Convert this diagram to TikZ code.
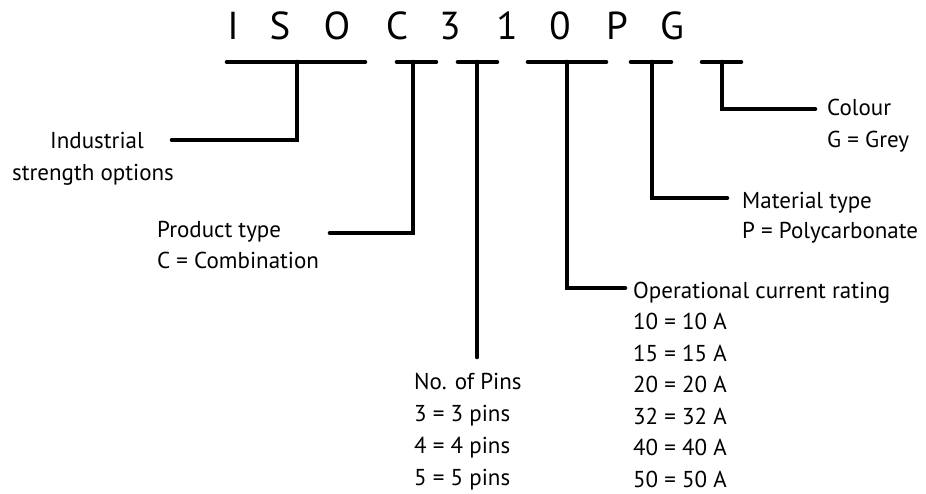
\documentclass[tikz,border=0pt]{standalone}
\usepackage{fontspec}
\setmainfont{PT Sans}
\usetikzlibrary{positioning}

\begin{document}
\begin{tikzpicture}[
    x=1pt, y=-1pt,
    codechar/.style={font=\fontsize{39}{39}\selectfont, inner sep=0pt, anchor=base},
    desc/.style={font=\fontsize{23}{28}\selectfont, inner sep=0pt, anchor=base west},
    descmid/.style={desc, anchor=base},
    bar/.style={line width=4.6pt, line cap=round},
    lead/.style={line width=4.6pt, line cap=round, line join=miter}
]
\useasboundingbox (0,0) rectangle (926,493);

% Code letters
\node[codechar] (cI) at (233,39) {I};
\node[codechar] (cS) at (280,39) {S};
\node[codechar] (cO) at (337,39) {O};
\node[codechar] (cC) at (397,39) {C};
\node[codechar] (c3) at (450,39) {3};
\node[codechar] (c1) at (507,39) {1};
\node[codechar] (c0) at (560,39) {0};
\node[codechar] (cP) at (617,39) {P};
\node[codechar] (cG) at (672,39) {G};

% Bars under the groups
\coordinate (ind-l) at (227,62);  \coordinate (ind-r) at (365,62);  \coordinate (ind-s) at (297,62);
\coordinate (typ-l) at (397,62);  \coordinate (typ-r) at (436,62);  \coordinate (typ-s) at (413,62);
\coordinate (pin-l) at (458,62);  \coordinate (pin-r) at (497,62);  \coordinate (pin-s) at (477,62);
\coordinate (cur-l) at (528,62);  \coordinate (cur-r) at (606,62);  \coordinate (cur-s) at (567,62);
\coordinate (mat-l) at (631,62);  \coordinate (mat-r) at (671,62);  \coordinate (mat-s) at (652,62);
\coordinate (col-l) at (702,62);  \coordinate (col-r) at (741,62);  \coordinate (col-s) at (722,62);

\draw[bar] (ind-l) -- (ind-r);
\draw[bar] (typ-l) -- (typ-r);
\draw[bar] (pin-l) -- (pin-r);
\draw[bar] (cur-l) -- (cur-r);
\draw[bar] (mat-l) -- (mat-r);
\draw[bar] (col-l) -- (col-r);

% Industrial strength options
\node[descmid] (ind1) at (97,148) {Industrial};
\node[descmid] (ind2) at (93,180) {strength options};
\coordinate (ind-e) at (172,140);
\draw[lead] (ind-s) |- (ind-e);

% Product type
\node[desc] (typ1) at (157,237) {Product type};
\node[desc] (typ2) at (157,268) {C = Combination};
\coordinate (typ-e) at (330,233);
\draw[lead] (typ-s) |- (typ-e);

% No. of pins
\node[desc] (pin1) at (414,389) {No. of Pins};
\node[desc] (pin2) at (414,421) {3 = 3 pins};
\node[desc] (pin3) at (414,453) {4 = 4 pins};
\node[desc] (pin4) at (414,485) {5 = 5 pins};
\coordinate (pin-e) at (477,357);
\draw[lead] (pin-s) -- (pin-e);

% Operational current rating
\node[desc] (cur1) at (633,298) {Operational current rating};
\node[desc] (cur2) at (633,329.5) {10 = 10 A};
\node[desc] (cur3) at (633,361) {15 = 15 A};
\node[desc] (cur4) at (633,392.5) {20 = 20 A};
\node[desc] (cur5) at (633,424) {32 = 32 A};
\node[desc] (cur6) at (633,455.5) {40 = 40 A};
\node[desc] (cur7) at (633,487) {50 = 50 A};
\coordinate (cur-e) at (625,288);
\draw[lead] (cur-s) |- (cur-e);

% Material type
\node[desc] (mat1) at (742,208) {Material type};
\node[desc] (mat2) at (742,238) {P = Polycarbonate};
\coordinate (mat-e) at (727,198);
\draw[lead] (mat-s) |- (mat-e);

% Colour
\node[desc] (col1) at (827,115) {Colour};
\node[desc] (col2) at (827,147) {G = Grey};
\coordinate (col-e) at (815,109);
\draw[lead] (col-s) |- (col-e);
\end{tikzpicture}
\end{document}
